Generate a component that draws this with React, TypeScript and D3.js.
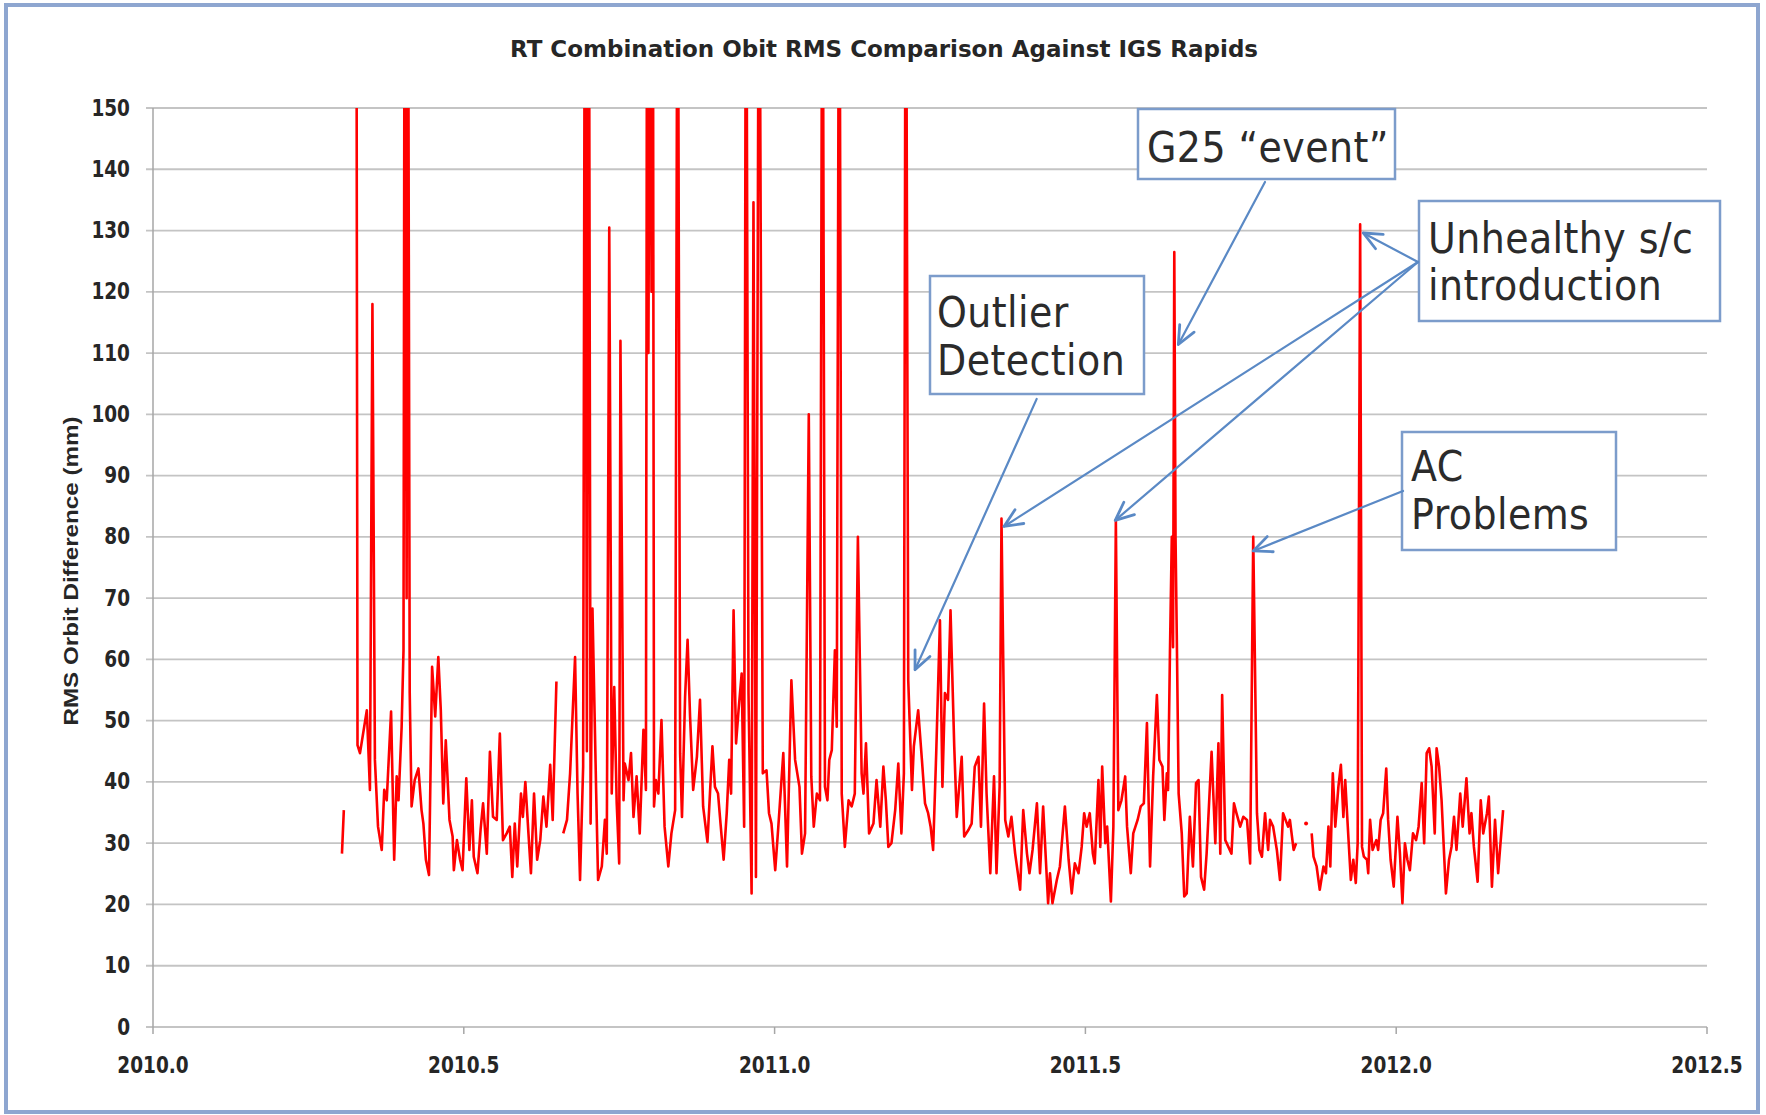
import React from 'react';
import * as d3 from 'd3';

// ---- data ----
const obsYear: number[] = [
  2010.304, 2010.307, 2010.317, 2010.327, 2010.329, 2010.333, 2010.344, 2010.349, 2010.353, 2010.357,
  2010.362, 2010.368, 2010.372, 2010.376, 2010.383, 2010.388, 2010.392, 2010.395, 2010.400, 2010.403,
  2010.405, 2010.408, 2010.410, 2010.413, 2010.416, 2010.421, 2010.427, 2010.432, 2010.435, 2010.439,
  2010.444, 2010.449, 2010.454, 2010.459, 2010.463, 2010.467, 2010.471, 2010.477, 2010.482, 2010.484,
  2010.489, 2010.494, 2010.498, 2010.504, 2010.509, 2010.513, 2010.516, 2010.522, 2010.527, 2010.531,
  2010.537, 2010.542, 2010.547, 2010.553, 2010.558, 2010.563, 2010.569, 2010.574, 2010.578, 2010.582,
  2010.586, 2010.592, 2010.595, 2010.599, 2010.604, 2010.608, 2010.613, 2010.618, 2010.623, 2010.628,
  2010.633, 2010.639, 2010.643, 2010.649, 2010.655, 2010.660, 2010.666, 2010.671, 2010.679, 2010.683,
  2010.687, 2010.692, 2010.695, 2010.698, 2010.701, 2010.704, 2010.707, 2010.713, 2010.716, 2010.722,
  2010.727, 2010.730, 2010.734, 2010.738, 2010.742, 2010.746, 2010.750, 2010.752, 2010.757, 2010.759,
  2010.765, 2010.769, 2010.773, 2010.778, 2010.783, 2010.789, 2010.793, 2010.795, 2010.797, 2010.800,
  2010.802, 2010.804, 2010.806, 2010.809, 2010.813, 2010.818, 2010.823, 2010.829, 2010.834, 2010.840,
  2010.844, 2010.848, 2010.851, 2010.856, 2010.860, 2010.864, 2010.869, 2010.875, 2010.880, 2010.885,
  2010.892, 2010.896, 2010.900, 2010.904, 2010.909, 2010.913, 2010.918, 2010.923, 2010.927, 2010.930,
  2010.934, 2010.938, 2010.942, 2010.947, 2010.951, 2010.954, 2010.958, 2010.963, 2010.966, 2010.970,
  2010.975, 2010.981, 2010.987, 2010.991, 2010.995, 2011.001, 2011.006, 2011.014, 2011.020, 2011.027,
  2011.033, 2011.040, 2011.044, 2011.049, 2011.055, 2011.059, 2011.063, 2011.068, 2011.073, 2011.077,
  2011.081, 2011.085, 2011.088, 2011.092, 2011.097, 2011.100, 2011.104, 2011.108, 2011.113, 2011.119,
  2011.124, 2011.129, 2011.134, 2011.140, 2011.143, 2011.147, 2011.152, 2011.159, 2011.164, 2011.170,
  2011.175, 2011.179, 2011.183, 2011.188, 2011.194, 2011.199, 2011.204, 2011.208, 2011.211, 2011.215,
  2011.221, 2011.224, 2011.231, 2011.237, 2011.242, 2011.247, 2011.251, 2011.255, 2011.260, 2011.266,
  2011.270, 2011.274, 2011.279, 2011.283, 2011.289, 2011.293, 2011.301, 2011.305, 2011.312, 2011.317,
  2011.322, 2011.328, 2011.332, 2011.337, 2011.341, 2011.347, 2011.353, 2011.357, 2011.362, 2011.365,
  2011.371, 2011.376, 2011.381, 2011.387, 2011.395, 2011.400, 2011.406, 2011.410, 2011.415, 2011.422,
  2011.427, 2011.432, 2011.440, 2011.443, 2011.447, 2011.454, 2011.459, 2011.467, 2011.473, 2011.478,
  2011.483, 2011.489, 2011.494, 2011.498, 2011.502, 2011.507, 2011.512, 2011.515, 2011.521, 2011.524,
  2011.527, 2011.532, 2011.535, 2011.541, 2011.545, 2011.549, 2011.553, 2011.558, 2011.564, 2011.567,
  2011.573, 2011.577, 2011.584, 2011.589, 2011.594, 2011.599, 2011.604, 2011.609, 2011.615, 2011.619,
  2011.624, 2011.627, 2011.631, 2011.633, 2011.636, 2011.639, 2011.641, 2011.643, 2011.645, 2011.647,
  2011.650, 2011.655, 2011.659, 2011.663, 2011.668, 2011.673, 2011.678, 2011.682, 2011.686, 2011.691,
  2011.695, 2011.703, 2011.709, 2011.714, 2011.717, 2011.720, 2011.725, 2011.735, 2011.739, 2011.743,
  2011.749, 2011.754, 2011.760, 2011.765, 2011.770, 2011.776, 2011.780, 2011.784, 2011.789, 2011.794,
  2011.797, 2011.802, 2011.808, 2011.813, 2011.818, 2011.826, 2011.829, 2011.835, 2011.839, 2011.847,
  2011.855, 2011.860, 2011.864, 2011.867, 2011.872, 2011.877, 2011.883, 2011.887, 2011.891, 2011.894,
  2011.898, 2011.902, 2011.907, 2011.911, 2011.915, 2011.918, 2011.923, 2011.927, 2011.931, 2011.935,
  2011.938, 2011.942, 2011.945, 2011.948, 2011.953, 2011.955, 2011.958, 2011.962, 2011.968, 2011.971,
  2011.975, 2011.979, 2011.984, 2011.987, 2011.991, 2011.996, 2012.002, 2012.006, 2012.010, 2012.014,
  2012.018, 2012.022, 2012.027, 2012.032, 2012.036, 2012.041, 2012.045, 2012.049, 2012.053, 2012.057,
  2012.062, 2012.065, 2012.069, 2012.073, 2012.077, 2012.080, 2012.085, 2012.089, 2012.093, 2012.097,
  2012.103, 2012.107, 2012.113, 2012.118, 2012.121, 2012.125, 2012.131, 2012.136, 2012.140, 2012.146,
  2012.149, 2012.154, 2012.159, 2012.164, 2012.172,
];

// RMS orbit difference (mm); null = no data; values above 150 are clipped by the chart
const obsRms: (number | null)[] = [
  28.3, 35.4, null, 200, 46, 44.7, 51.7, 38.7, 118, 43.6,
  32.7, 28.9, 38.7, 37, 51.5, 27.3, 40.9, 37, 49, 61.5,
  200, 70, 200, 54.5, 36, 40.3, 42.2, 35.4, 33.2, 27.3,
  24.8, 58.8, 50.7, 60.4, 51.7, 36.5, 46.8, 33.8, 31.1, 25.6,
  30.5, 27.3, 25.6, 40.6, 28.9, 37, 27.8, 25.1, 32.2, 36.5,
  28.3, 44.9, 34.3, 33.8, 47.9, 30.5, 31.6, 32.7, 24.5, 33.2,
  26.2, 38.1, 34.3, 40, 31.6, 25.1, 38.1, 27.3, 30.5, 37.6,
  32.7, 42.8, 33.8, 56.4, null, 31.6, 33.8, 41.4, 60.4, 38.1,
  24, 42.5, 200, 45, 200, 33.2, 68.3, 38.1, 24, 26.2,
  33.8, 28.3, 130.5, 38.1, 55.5, 36.5, 26.7, 112, 37, 43,
  40.3, 44.7, 34.3, 40.9, 31.6, 48.5, 38.7, 200, 110, 200,
  120, 200, 36, 40.3, 38.1, 50.1, 32.7, 26.2, 31.6, 35.4,
  200, 44.7, 34.3, 53.9, 63.2, 50.7, 38.7, 44.1, 53.4, 36,
  30.2, 38.1, 45.8, 39.2, 38.1, 33.2, 27.3, 34.9, 43.6, 38.1,
  68, 46.3, 51.7, 57.7, 32.7, 200, 54.5, 21.8, 134.6, 24.5,
  200, 41.4, 41.9, 34.9, 33.2, 25.6, 32.7, 44.7, 26.2, 56.6,
  43.6, 39.2, 28.3, 31.6, 100, 40.9, 32.7, 38.1, 37, 200,
  39.2, 37, 43.6, 45.2, 61.5, 49, 200, 38.1, 29.4, 37,
  36, 38.1, 80, 41.4, 38.1, 46.3, 31.6, 33.2, 40.3, 32.7,
  42.5, 37, 29.4, 30, 35.4, 43, 31.6, 41.4, 200, 56.6,
  38.7, 45.8, 51.7, 43.6, 36.5, 34.9, 32.7, 28.9, 44.7, 66.4,
  39.2, 54.5, 53.4, 68, 45.8, 34.3, 44.1, 31.1, 32.2, 33.2,
  42.5, 44.1, 32.7, 52.8, 38.1, 25.1, 40.9, 25.1, 39.2, 83,
  33.8, 31.1, 34.3, 28.3, 22.4, 35.4, 28.3, 25.1, 28.9, 36.5,
  25.1, 36, 20.2, 25.1, 20.2, 24, 26.2, 36, 27.3, 21.8,
  26.7, 25.1, 29.4, 34.9, 32.7, 34.9, 28.3, 26.7, 40.3, 29.4,
  42.5, 30, 32.7, 20.5, 32.7, 82.7, 35.4, 37, 40.9, 32.7,
  25.1, 31.6, 33.8, 36, 36.5, 49.6, 26.2, 40.9, 54.2, 43.6,
  42.5, 33.8, 41.4, 38.7, 61, 80, 62, 126.5, 80, 64,
  38.1, 31.6, 21.3, 21.8, 34.3, 26.2, 39.8, 40.3, 24.5, 22.4,
  28.3, 44.9, 30, 46.3, 28.3, 54.2, 30.5, 28.3, 36.5, 34.9,
  32.7, 34.3, 33.8, 26.7, 80, 34.9, 28.9, 27.8, 34.9, 28.9,
  33.8, 32.7, 28.9, 24, 34.9, 32.7, 33.8, 28.9, 30, null,
  33.2, null, 31.6, 27.8, 26.2, 22.4, 26.2, 25.1, 32.7, 26.2,
  41.4, 32.7, 39.2, 42.8, 34.3, 40.3, 31.1, 24, 27.3, 23.5,
  30, 131, 29.4, 27.8, 27.3, 25.1, 33.8, 28.9, 30.5, 28.9,
  33.8, 34.9, 42.2, 33.8, 27.3, 22.9, 34.3, 28.3, 20.2, 30,
  27.3, 25.6, 31.6, 30.5, 32.7, 39.8, 30, 44.7, 45.5, 42.5,
  31.6, 45.5, 42.5, 37, 28.3, 21.8, 27.3, 29.4, 34.3, 28.9,
  38.1, 32.7, 40.6, 31.6, 34.9, 29.4, 23.7, 37, 31.6, 34.9,
  37.6, 22.9, 33.8, 25.1, 35.4,
];

const yTickValues = [0, 10, 20, 30, 40, 50, 60, 70, 80, 90, 100, 110, 120, 130, 140, 150];
const xTickValues = [2010.0, 2010.5, 2011.0, 2011.5, 2012.0, 2012.5];

const chartTitle = 'RT Combination Obit RMS Comparison Against IGS Rapids';
const yAxisTitle = 'RMS Orbit Difference (mm)';

const calloutLabels = [
  ['G25 “event”'],
  ['Outlier', 'Detection'],
  ['Unhealthy s/c', 'introduction'],
  ['AC', 'Problems'],
];
// arrow targets in data units [year, mm]
const arrowTargets: [number, number][] = [
  [2011.6495, 111.4],
  [2011.2259, 58.3],
  [2011.947, 129.6],
  [2011.369, 81.7],
  [2011.548, 82.7],
  [2011.770, 77.7],
];

// ---- layout ----
const W = 1766;
const H = 1115;
const plot = { left: 153, right: 1707, top: 108, bottom: 1027 };

const boxes = [
  { x: 1138, y: 109, w: 257, h: 70, tx: 1147, ty: [162] },
  { x: 930, y: 276, w: 214, h: 118, tx: 937, ty: [327, 375] },
  { x: 1419, y: 201, w: 301, h: 120, tx: 1428, ty: [253, 300] },
  { x: 1402, y: 432, w: 214, h: 118, tx: 1411, ty: [481, 529] },
];
const arrowStarts: [number, number][] = [
  [1265, 182],
  [1036.7, 398.9],
  [1418, 262],
  [1418, 262],
  [1418, 262],
  [1403, 491],
];

const TICK_FONT = '"DejaVu Sans", Verdana, sans-serif';

export default function App() {
  const x = d3.scaleLinear().domain([2010, 2012.5]).range([plot.left, plot.right]);
  const y = d3.scaleLinear().domain([0, 150]).range([plot.bottom, plot.top]);

  const pts = obsYear.map((t, i) => [t, obsRms[i]] as [number, number | null]);
  const line = d3
    .line<[number, number | null]>()
    .defined((d) => d[1] !== null)
    .x((d) => x(d[0]))
    .y((d) => y(d[1] as number));
  const pathD = line(pts) || '';

  const isolated = pts.filter(
    (d, i) =>
      d[1] !== null &&
      (i === 0 || pts[i - 1][1] === null) &&
      (i === pts.length - 1 || pts[i + 1][1] === null)
  );

  const arrowColor = '#5A89C5';
  const arrowHead = (x1: number, y1: number, x2: number, y2: number) => {
    const a = Math.atan2(y2 - y1, x2 - x1);
    const L = 20;
    const s = 0.42;
    const p1 = [x2 - L * Math.cos(a - s), y2 - L * Math.sin(a - s)];
    const p2 = [x2 - L * Math.cos(a + s), y2 - L * Math.sin(a + s)];
    return `M${p1[0]},${p1[1]}L${x2},${y2}L${p2[0]},${p2[1]}`;
  };

  return (
    <svg
      width={W}
      height={H}
      viewBox={`0 0 ${W} ${H}`}
      style={{ position: 'absolute', left: 0, top: 0, background: '#fff' }}
    >
      <defs>
        <clipPath id="plotClip">
          <rect x={plot.left - 2} y={plot.top} width={plot.right - plot.left + 4} height={plot.bottom - plot.top} />
        </clipPath>
      </defs>
      <rect x={6} y={5} width={1752} height={1107} fill="#fff" stroke="#8EA6D0" strokeWidth={4} />

      {/* title */}
      <text
        transform={`translate(${884},${57}) scale(1,1.12)`}
        textAnchor="middle"
        fontFamily={TICK_FONT}
        fontWeight="bold"
        fontSize={20}
        fill="#262626"
        textLength={748}
        lengthAdjust="spacingAndGlyphs"
      >
        {chartTitle}
      </text>

      {/* gridlines */}
      {yTickValues.map((v) => (
        <line key={`g${v}`} x1={plot.left - 7} x2={plot.right} y1={y(v)} y2={y(v)} stroke="#C4C4C4" strokeWidth={1.8} />
      ))}
      {/* axes */}
      <line x1={plot.left} x2={plot.left} y1={plot.top} y2={plot.bottom} stroke="#A6A6A6" strokeWidth={1.5} />
      {xTickValues.map((t) => (
        <line key={`xt${t}`} x1={x(t)} x2={x(t)} y1={plot.bottom} y2={plot.bottom + 7} stroke="#A6A6A6" strokeWidth={1.5} />
      ))}

      {/* y tick labels */}
      {yTickValues.map((v) => (
        <text
          key={`yl${v}`}
          transform={`translate(${130},${y(v) + 7.5}) scale(1,1.2)`}
          textAnchor="end"
          fontFamily={TICK_FONT}
          fontWeight="bold"
          fontSize={18.5}
          fill="#262626"
        >
          {v}
        </text>
      ))}
      {/* x tick labels */}
      {xTickValues.map((t) => (
        <text
          key={`xl${t}`}
          transform={`translate(${x(t)},${1073}) scale(1,1.2)`}
          textAnchor="middle"
          fontFamily={TICK_FONT}
          fontWeight="bold"
          fontSize={18.5}
          fill="#262626"
        >
          {t.toFixed(1)}
        </text>
      ))}

      {/* y axis title */}
      <text
        transform={`translate(${78},${571}) rotate(-90)`}
        textAnchor="middle"
        fontFamily='"Liberation Sans", Arial, sans-serif'
        fontWeight="bold"
        fontSize={19.5}
        fill="#262626"
        textLength={309}
        lengthAdjust="spacingAndGlyphs"
      >
        {yAxisTitle}
      </text>

      {/* callout boxes */}
      {boxes.map((b, i) => (
        <g key={`b${i}`}>
          <rect x={b.x} y={b.y} width={b.w} height={b.h} fill="#fff" stroke="#7C9CCB" strokeWidth={2.5} />
          {calloutLabels[i].map((s, j) => (
            <text
              key={j}
              transform={`translate(${b.tx},${b.ty[j]}) scale(1,1.12)`}
              fontFamily={TICK_FONT}
              fontSize={38}
              fill="#2B2B2B"
              letterSpacing={0.4}
            >
              {s}
            </text>
          ))}
        </g>
      ))}

      {/* data */}
      <g clipPath="url(#plotClip)">
        <path d={pathD} fill="none" stroke="#FF0000" strokeWidth={2.6} strokeLinejoin="round" />
        {isolated.map((d, i) => (
          <circle key={`iso${i}`} cx={x(d[0])} cy={y(d[1] as number)} r={2} fill="#FF0000" />
        ))}
      </g>

      {/* arrows */}
      {arrowTargets.map((tg, i) => {
        const [x1, y1] = arrowStarts[i];
        const x2 = x(tg[0]);
        const y2 = y(tg[1]);
        return (
          <g key={`a${i}`} fill="none" stroke={arrowColor} strokeLinecap="round">
            <line x1={x1} y1={y1} x2={x2} y2={y2} strokeWidth={2.2} />
            <path d={arrowHead(x1, y1, x2, y2)} strokeWidth={2.8} strokeLinejoin="round" />
          </g>
        );
      })}
    </svg>
  );
}
